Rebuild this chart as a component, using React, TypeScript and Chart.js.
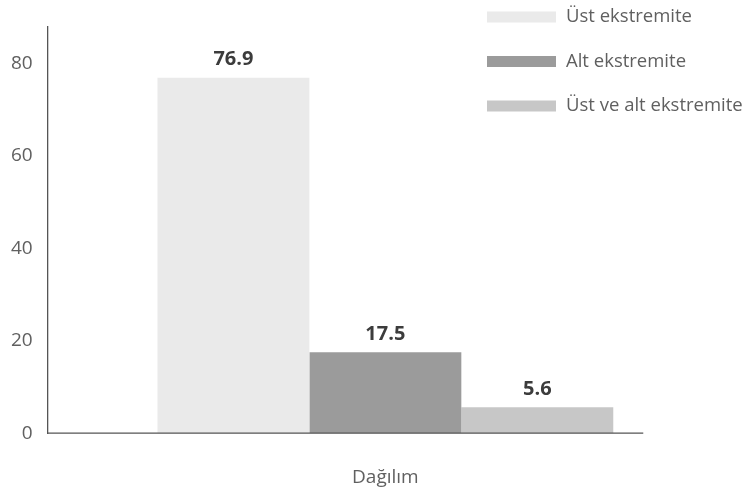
import React, { useEffect, useRef } from "react";
import { Chart, registerables } from "chart.js";

Chart.register(...registerables);

const categories = ["Dağılım"];
const seriesNames = ["Üst ekstremite", "Alt ekstremite", "Üst ve alt ekstremite"];
const ustValues = [76.9];
const altValues = [17.5];
const ikisiValues = [5.6];
const yTicks = [0, 20, 40, 60, 80];

const colors = ["#eaeaea", "#9b9b9b", "#c7c7c7"];
const FONT = "'Open Sans', 'Noto Sans', sans-serif";
const TEXT_GREY = "#606060";

// value labels above each bar
const valueLabels = {
  id: "valueLabels",
  afterDatasetsDraw(chart: any) {
    const { ctx } = chart;
    ctx.save();
    ctx.font = `bold 20px ${FONT}`;
    ctx.fillStyle = "#3c3c3c";
    ctx.textAlign = "center";
    ctx.textBaseline = "bottom";
    chart.data.datasets.forEach((ds: any, i: number) => {
      const meta = chart.getDatasetMeta(i);
      meta.data.forEach((bar: any, j: number) => {
        ctx.fillText(ds.data[j].toFixed(1), bar.x, bar.y - 8);
      });
    });
    ctx.restore();
  },
};

// bottom axis line, ending a little past the last bar
const baseLine = {
  id: "baseLine",
  afterDatasetsDraw(chart: any) {
    const { ctx, chartArea } = chart;
    const last = chart.getDatasetMeta(chart.data.datasets.length - 1).data[0];
    const right = last.x + last.width / 2 + 30;
    const y = chart.scales.y.getPixelForValue(0);
    ctx.save();
    ctx.strokeStyle = "#555555";
    ctx.lineWidth = 1.3;
    ctx.beginPath();
    ctx.moveTo(chartArea.left, y);
    ctx.lineTo(right, y);
    ctx.stroke();
    ctx.restore();
  },
};

// legend drawn in the top-right corner
const cornerLegend = {
  id: "cornerLegend",
  afterDraw(chart: any) {
    const { ctx } = chart;
    ctx.save();
    ctx.font = `18.5px ${FONT}`;
    ctx.textBaseline = "middle";
    ctx.textAlign = "left";
    chart.data.datasets.forEach((ds: any, i: number) => {
      const cy = 17 + i * 44.5;
      ctx.fillStyle = ds.backgroundColor;
      ctx.fillRect(487, cy - 5.5, 69, 11);
      ctx.fillStyle = TEXT_GREY;
      ctx.fillText(ds.label, 566, cy);
    });
    ctx.restore();
  },
};

export default function App() {
  const ref = useRef<HTMLCanvasElement | null>(null);

  useEffect(() => {
    if (!ref.current) return;
    const values = [ustValues, altValues, ikisiValues];
    const chart = new Chart(ref.current, {
      type: "bar",
      data: {
        labels: categories,
        datasets: seriesNames.map((name, i) => ({
          label: name,
          data: values[i],
          backgroundColor: colors[i],
          borderWidth: 0,
          barPercentage: 1,
          categoryPercentage: 0.675,
        })),
      },
      options: {
        animation: false,
        responsive: false,
        maintainAspectRatio: false,
        layout: { padding: { top: 20, right: 29, bottom: 6, left: -4 } },
        plugins: {
          legend: { display: false },
          tooltip: { enabled: false },
        },
        scales: {
          x: {
            grid: { display: false, drawTicks: false },
            border: { display: false },
            ticks: { display: false },
            title: {
              display: true,
              text: "Dağılım",
              color: TEXT_GREY,
              font: { family: FONT, size: 19, weight: "normal" },
              padding: { top: 33, bottom: 0 },
            },
          },
          y: {
            min: 0,
            max: 88,
            grid: { display: false, drawTicks: false },
            border: { display: true, color: "#555555", width: 1.3 },
            afterBuildTicks(scale: any) {
              scale.ticks = yTicks.map((v) => ({ value: v }));
            },
            ticks: {
              padding: 15,
              color: TEXT_GREY,
              font: { family: FONT, size: 19, weight: "normal" },
            },
          },
        },
      },
      plugins: [valueLabels, baseLine, cornerLegend],
    });
    return () => chart.destroy();
  }, []);

  return (
    <div style={{ position: "fixed", left: 0, top: 0, width: 752, height: 495, background: "#ffffff" }}>
      <canvas ref={ref} width={752} height={495} />
    </div>
  );
}
